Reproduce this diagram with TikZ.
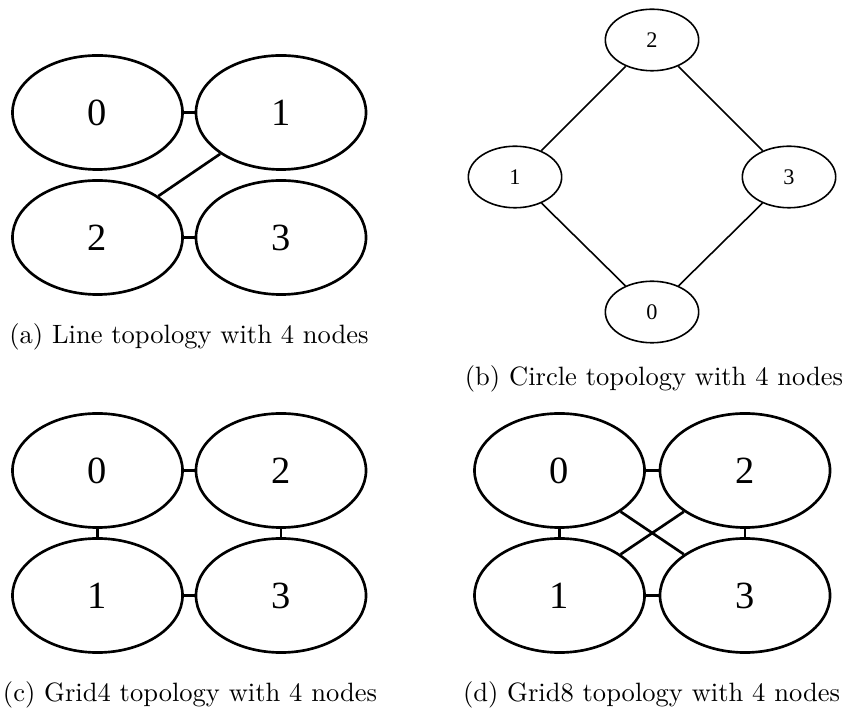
\documentclass[tikz,border=0pt]{standalone}
\usepackage{fontspec}
\newfontfamily\labelfont{Liberation Serif}
\usetikzlibrary{shapes.geometric}
\begin{document}
\begin{tikzpicture}[x=0.377pt,y=-0.377pt,
  bignode/.style={draw, ellipse, line width=1pt, inner sep=0pt,
    minimum width=64.1pt, minimum height=43pt,
    font=\labelfont\fontsize{14.5}{14.5}\selectfont},
  smallnode/.style={draw, ellipse, line width=0.6pt, inner sep=0pt,
    minimum width=35.2pt, minimum height=23.2pt,
    font=\labelfont\fontsize{8.4}{8.4}\selectfont},
  bigedge/.style={line width=1pt},
  smalledge/.style={line width=0.6pt},
  caption/.style={anchor=base, inner sep=0pt, font=\fontsize{10}{12}\selectfont}]
\useasboundingbox (0,0) rectangle (843,711);

% (a) line topology
\node[bignode] (a0) at (97.5,112.5) {0};
\node[bignode] (a1) at (281,112.5) {1};
\node[bignode] (a2) at (97.5,237.5) {2};
\node[bignode] (a3) at (281,237.5) {3};
\draw[bigedge] (a0) -- (a1);
\draw[bigedge] (a1) -- (a2);
\draw[bigedge] (a2) -- (a3);
\node[caption] (capa) at (189,344) {(a) Line topology with 4 nodes};

% (b) circle topology
\node[smallnode] (b2) at (652,40) {2};
\node[smallnode] (b1) at (515,177) {1};
\node[smallnode] (b3) at (789,177) {3};
\node[smallnode] (b0) at (652,312) {0};
\draw[smalledge] (b2) -- (b1);
\draw[smalledge] (b2) -- (b3);
\draw[smalledge] (b1) -- (b0);
\draw[smalledge] (b3) -- (b0);
\node[caption] (capb) at (654,386) {(b) Circle topology with 4 nodes};

% (c) grid4 topology
\node[bignode] (c0) at (97.5,470.5) {0};
\node[bignode] (c2) at (281,470.5) {2};
\node[bignode] (c1) at (97.5,595.5) {1};
\node[bignode] (c3) at (281,595.5) {3};
\draw[bigedge] (c0) -- (c2);
\draw[bigedge] (c0) -- (c1);
\draw[bigedge] (c2) -- (c3);
\draw[bigedge] (c1) -- (c3);
\node[caption] (capc) at (190,701) {(c) Grid4 topology with 4 nodes};

% (d) grid8 topology
\node[bignode] (d0) at (559.5,470.5) {0};
\node[bignode] (d2) at (745,470.5) {2};
\node[bignode] (d1) at (559.5,595.5) {1};
\node[bignode] (d3) at (745,595.5) {3};
\draw[bigedge] (d0) -- (d2);
\draw[bigedge] (d0) -- (d1);
\draw[bigedge] (d2) -- (d3);
\draw[bigedge] (d1) -- (d3);
\draw[bigedge] (d0) -- (d3);
\draw[bigedge] (d1) -- (d2);
\node[caption] (capd) at (651.5,701) {(d) Grid8 topology with 4 nodes};
\end{tikzpicture}
\end{document}
